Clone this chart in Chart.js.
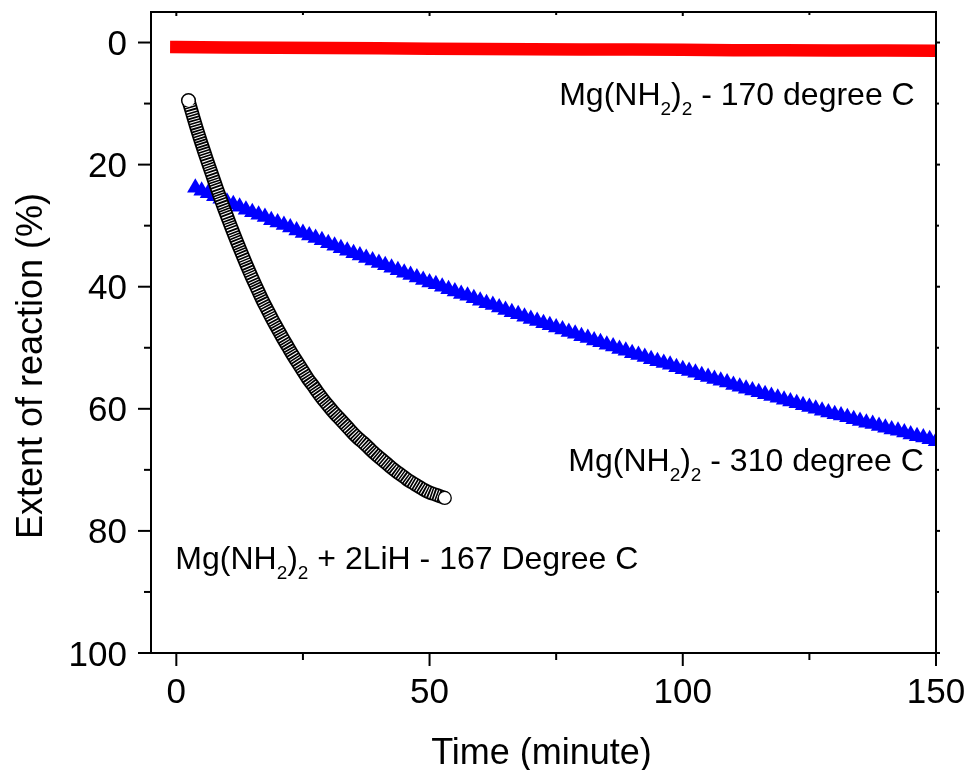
<!DOCTYPE html>
<html>
<head>
<meta charset="utf-8">
<title>Extent of reaction</title>
<script src="https://cdn.jsdelivr.net/npm/chart.js@4.4.1/dist/chart.umd.min.js"></script>
<style>
  html, body { margin: 0; padding: 0; background: #fff; }
  #wrap { width: 968px; height: 770px; }
</style>
</head>
<body>
<div id="wrap"><canvas id="chart" width="968" height="770"></canvas></div>
<script>
const FONT = '"Liberation Sans", Arial, Helvetica, sans-serif';

// Mg(NH2)2 - 170 degree C
const redTime = [0, 10, 20, 30, 40, 50, 60, 70, 80, 90, 100, 110, 120, 130, 140, 150];
const redExtent = [0.75, 0.8, 0.85, 0.9, 0.95, 1.0, 1.05, 1.1, 1.15, 1.15, 1.2, 1.25, 1.25, 1.3, 1.3, 1.35];

// Mg(NH2)2 - 310 degree C
const blueTime = [
  3.75, 5, 6.25, 7.5, 8.75, 10, 11.25, 12.5, 13.75, 15,
  16.25, 17.5, 18.75, 20, 21.25, 22.5, 23.75, 25, 26.25, 27.5,
  28.75, 30, 31.25, 32.5, 33.75, 35, 36.25, 37.5, 38.75, 40,
  41.25, 42.5, 43.75, 45, 46.25, 47.5, 48.75, 50, 51.25, 52.5,
  53.75, 55, 56.25, 57.5, 58.75, 60, 61.25, 62.5, 63.75, 65,
  66.25, 67.5, 68.75, 70, 71.25, 72.5, 73.75, 75, 76.25, 77.5,
  78.75, 80, 81.25, 82.5, 83.75, 85, 86.25, 87.5, 88.75, 90,
  91.25, 92.5, 93.75, 95, 96.25, 97.5, 98.75, 100, 101.25, 102.5,
  103.75, 105, 106.25, 107.5, 108.75, 110, 111.25, 112.5, 113.75, 115,
  116.25, 117.5, 118.75, 120, 121.25, 122.5, 123.75, 125, 126.25, 127.5,
  128.75, 130, 131.25, 132.5, 133.75, 135, 136.25, 137.5, 138.75, 140,
  141.25, 142.5, 143.75, 145, 146.25, 147.5, 148.75, 150,
];
const blueExtent = [
  23.8, 24.3, 24.7, 25.2, 25.6, 26.1, 26.5, 26.9, 27.4, 27.8,
  28.2, 28.6, 29.1, 29.5, 29.9, 30.3, 30.8, 31.2, 31.6, 32.0,
  32.4, 32.9, 33.3, 33.7, 34.1, 34.5, 34.9, 35.3, 35.7, 36.1,
  36.5, 36.9, 37.3, 37.7, 38.1, 38.5, 38.9, 39.3, 39.6, 40.0,
  40.4, 40.8, 41.2, 41.5, 41.9, 42.3, 42.7, 43.0, 43.4, 43.8,
  44.2, 44.5, 44.9, 45.3, 45.6, 46.0, 46.3, 46.7, 47.0, 47.4,
  47.7, 48.1, 48.4, 48.8, 49.1, 49.5, 49.8, 50.2, 50.5, 50.9,
  51.2, 51.5, 51.9, 52.2, 52.5, 52.8, 53.2, 53.5, 53.8, 54.1,
  54.5, 54.8, 55.1, 55.4, 55.7, 56.1, 56.4, 56.7, 57.0, 57.3,
  57.6, 57.9, 58.2, 58.5, 58.8, 59.1, 59.4, 59.7, 60.0, 60.3,
  60.6, 60.9, 61.1, 61.4, 61.7, 62.0, 62.3, 62.5, 62.8, 63.1,
  63.4, 63.6, 63.9, 64.2, 64.5, 64.7, 65.0, 65.3,
];

// Mg(NH2)2 + 2LiH - 167 Degree C
const blackTime = [
  2.4, 3, 4, 5, 6, 7, 8, 9, 10, 11, 12, 13, 14, 15, 16, 17, 18, 19, 20,
  21, 22, 23, 24, 25, 26, 27, 28, 29, 30, 31, 32, 33, 34, 35, 36, 37,
  38, 39, 40, 41, 42, 43, 44, 45, 46, 47, 48, 49, 50, 51, 52, 53,
];
const blackExtent = [
  9.5, 11.2, 14.0, 16.6, 19.1, 21.5, 23.9, 26.2, 28.4, 30.6, 32.7, 34.7, 36.7, 38.6, 40.4, 42.2, 43.8, 45.4, 46.9,
  48.4, 49.8, 51.2, 52.5, 53.8, 55.1, 56.2, 57.4, 58.5, 59.5, 60.5, 61.4, 62.3, 63.2, 64.1, 64.9, 65.6,
  66.4, 67.2, 67.9, 68.6, 69.3, 70.0, 70.6, 71.2, 71.8, 72.3, 72.8, 73.3, 73.7, 74.0, 74.3, 74.6,
];

const xMajor = [0, 50, 100, 150];
const xMinor = [25, 75, 125];
const yMajor = [0, 20, 40, 60, 80, 100];
const yMinor = [10, 30, 50, 70, 90];

// text pieces: [text, isSubscript]
const seriesLabels = [
  { parts: [['Mg(NH', 0], ['2', 1], [')', 0], ['2', 1], [' - 170 degree C', 0]], x: 75.6, y: 10.3 },
  { parts: [['Mg(NH', 0], ['2', 1], [')', 0], ['2', 1], [' - 310 degree C', 0]], x: 77.4, y: 70.2 },
  { parts: [['Mg(NH', 0], ['2', 1], [')', 0], ['2', 1], [' + 2LiH - 167 Degree C', 0]], x: -0.2, y: 86.2 },
];

const toPoints = (xs, ys) => xs.map((x, i) => ({ x, y: ys[i] }));
const red = toPoints(redTime, redExtent);
const blue = toPoints(blueTime, blueExtent);
const black = toPoints(blackTime, blackExtent);

function drawRich(ctx, parts, px, py) {
  let cx = px;
  for (const [text, sub] of parts) {
    ctx.font = sub ? `19px ${FONT}` : `32px ${FONT}`;
    ctx.fillText(text, cx, sub ? py + 10 : py);
    cx += ctx.measureText(text).width;
  }
}

const framePlugin = {
  id: 'frame',
  afterDraw(chart) {
    const { ctx, chartArea: a } = chart;
    const x = chart.scales.x;
    const y = chart.scales.y;
    ctx.save();
    ctx.strokeStyle = '#000';
    ctx.lineWidth = 2;
    ctx.strokeRect(a.left, a.top, a.right - a.left, a.bottom - a.top);

    const line = (x1, y1, x2, y2) => {
      ctx.beginPath();
      ctx.moveTo(x1, y1);
      ctx.lineTo(x2, y2);
      ctx.stroke();
    };
    for (const v of xMajor) {
      const px = x.getPixelForValue(v);
      line(px, a.bottom, px, a.bottom + 13);
      line(px, a.top, px, a.top + 4);
    }
    for (const v of xMinor) {
      const px = x.getPixelForValue(v);
      line(px, a.bottom, px, a.bottom + 7);
      line(px, a.top, px, a.top + 3);
    }
    for (const v of yMajor) {
      const py = y.getPixelForValue(v);
      line(a.left - 13, py, a.left, py);
      line(a.right, py, a.right + 4, py);
    }
    for (const v of yMinor) {
      const py = y.getPixelForValue(v);
      line(a.left - 7, py, a.left, py);
      line(a.right, py, a.right + 3, py);
    }

    ctx.fillStyle = '#000';
    ctx.font = `35px ${FONT}`;
    ctx.textBaseline = 'alphabetic';
    ctx.textAlign = 'center';
    for (const v of xMajor) {
      ctx.fillText(String(v), x.getPixelForValue(v), a.bottom + 50);
    }
    ctx.textAlign = 'right';
    for (const v of yMajor) {
      ctx.fillText(String(v), a.left - 24, y.getPixelForValue(v) + 12.5);
    }

    // axis titles
    ctx.font = `36px ${FONT}`;
    ctx.textAlign = 'center';
    ctx.fillText('Time (minute)', (a.left + a.right) / 2 - 2, a.bottom + 111);
    ctx.save();
    ctx.translate(42, 366);
    ctx.rotate(-Math.PI / 2);
    ctx.fillText('Extent of reaction (%)', 0, 0);
    ctx.restore();

    // series labels
    ctx.textAlign = 'left';
    for (const lab of seriesLabels) {
      drawRich(ctx, lab.parts, x.getPixelForValue(lab.x), y.getPixelForValue(lab.y));
    }
    ctx.restore();
  },
};

const hiddenAxis = {
  type: 'linear',
  ticks: { display: false },
  grid: { display: false },
  border: { display: false },
};

new Chart(document.getElementById('chart'), {
  type: 'scatter',
  data: {
    datasets: [
      {
        label: 'Mg(NH2)2 + 2LiH - 167 Degree C',
        data: black,
        showLine: true,
        borderColor: '#000',
        borderWidth: 14,
        borderCapStyle: 'butt',
        tension: 0.4,
        pointRadius: (c) => (c.dataIndex === 0 ? 6.8 : 0),
        pointBackgroundColor: '#fff',
        pointBorderColor: '#000',
        pointBorderWidth: 1.5,
        order: 1,
      },
      {
        label: 'Mg(NH2)2 + 2LiH - 167 Degree C (rings)',
        data: black,
        showLine: true,
        borderColor: '#fff',
        borderWidth: 10.5,
        borderDash: [1, 1.7],
        tension: 0.4,
        pointRadius: (c) => (c.dataIndex === black.length - 1 ? 6.5 : 0),
        pointBackgroundColor: '#fff',
        pointBorderColor: '#000',
        pointBorderWidth: 1.3,
        order: 0,
      },
      {
        label: 'Mg(NH2)2 - 310 degree C',
        data: blue,
        pointStyle: 'triangle',
        pointRadius: 9.5,
        backgroundColor: '#0000ff',
        borderColor: '#0000ff',
        borderWidth: 0,
        showLine: false,
        order: 2,
      },
      {
        label: 'Mg(NH2)2 - 170 degree C',
        data: red,
        showLine: true,
        borderColor: '#ff0000',
        borderWidth: 12.5,
        borderCapStyle: 'square',
        pointRadius: 0,
        order: 3,
      },
    ],
  },
  options: {
    responsive: false,
    animation: false,
    devicePixelRatio: 1,
    events: [],
    layout: { padding: { left: 143, top: 12, right: 32, bottom: 109 } },
    plugins: { legend: { display: false }, tooltip: { enabled: false } },
    scales: {
      x: {
        ...hiddenAxis,
        min: -5,
        max: 150,
        afterBuildTicks: (s) => { s.ticks = xMajor.map((v) => ({ value: v })); },
      },
      y: {
        ...hiddenAxis,
        reverse: true,
        min: -5,
        max: 100,
        afterBuildTicks: (s) => { s.ticks = yMajor.map((v) => ({ value: v })); },
      },
    },
  },
  plugins: [framePlugin],
});
</script>
</body>
</html>
